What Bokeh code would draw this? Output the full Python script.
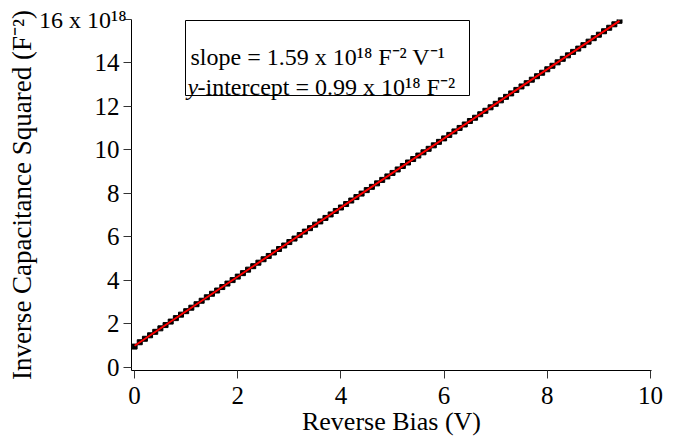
from bokeh.plotting import figure
from bokeh.models import Label, BoxAnnotation, LinearAxis, FixedTicker
from bokeh.embed import file_html
from bokeh.resources import INLINE

# ---- data (y in units of 1e18 F^-2) ----
bias_v = [0.0, 0.1, 0.2, 0.3, 0.4, 0.5, 0.6, 0.7, 0.8, 0.9,
          1.0, 1.1, 1.2, 1.3, 1.4, 1.5, 1.6, 1.7, 1.8, 1.9,
          2.0, 2.1, 2.2, 2.3, 2.4, 2.5, 2.6, 2.7, 2.8, 2.9,
          3.0, 3.1, 3.2, 3.3, 3.4, 3.5, 3.6, 3.7, 3.8, 3.9,
          4.0, 4.1, 4.2, 4.3, 4.4, 4.5, 4.6, 4.7, 4.8, 4.9,
          5.0, 5.1, 5.2, 5.3, 5.4, 5.5, 5.6, 5.7, 5.8, 5.9,
          6.0, 6.1, 6.2, 6.3, 6.4, 6.5, 6.6, 6.7, 6.8, 6.9,
          7.0, 7.1, 7.2, 7.3, 7.4, 7.5, 7.6, 7.7, 7.8, 7.9,
          8.0, 8.1, 8.2, 8.3, 8.4, 8.5, 8.6, 8.7, 8.8, 8.9,
          9.0, 9.1, 9.2, 9.3, 9.4]
inv_cap_sq = [0.95, 1.15, 1.31, 1.47, 1.63, 1.79, 1.94, 2.10, 2.26, 2.42,
              2.58, 2.74, 2.90, 3.06, 3.22, 3.38, 3.53, 3.69, 3.85, 4.01,
              4.17, 4.33, 4.49, 4.65, 4.81, 4.97, 5.12, 5.28, 5.44, 5.60,
              5.76, 5.92, 6.08, 6.24, 6.40, 6.56, 6.71, 6.87, 7.03, 7.19,
              7.35, 7.51, 7.67, 7.83, 7.99, 8.15, 8.30, 8.46, 8.62, 8.78,
              8.94, 9.10, 9.26, 9.42, 9.58, 9.74, 9.89, 10.05, 10.21, 10.37,
              10.53, 10.69, 10.85, 11.01, 11.17, 11.33, 11.48, 11.64, 11.80, 11.96,
              12.12, 12.28, 12.44, 12.60, 12.76, 12.92, 13.07, 13.23, 13.39, 13.55,
              13.71, 13.87, 14.03, 14.19, 14.35, 14.51, 14.66, 14.82, 14.98, 15.14,
              15.30, 15.46, 15.62, 15.78, 15.94]
fit_x = [0.0, 9.4]
fit_y = [0.99, 15.94]
x_ticks = [0, 2, 4, 6, 8, 10]
y_ticks = [0, 2, 4, 6, 8, 10, 12, 14, 16]
top_tick = 16
top_tick_text = "16 x 10\u00b9\u2078"
slope_text = "slope = 1.59 x 10\u00b9\u2078  F\u207b\u00b2 V\u207b\u00b9"
intercept_text = "-intercept = 0.99 x 10\u00b9\u2078 F\u207b\u00b2"

FONT = "Liberation Serif"

# frame geometry (pixels) and ranges
FL, FR, FT, FB = 131, 651, 19, 370
XR = (-0.06, 10.02)
YR = (-0.15, 16.0)


def dx(px):
    return XR[0] + (px - FL) / (FR - FL) * (XR[1] - XR[0])


def dy(py):
    return YR[1] - (py - FT) / (FB - FT) * (YR[1] - YR[0])


p = figure(width=680, height=444, x_range=XR, y_range=YR,
           output_backend="svg", toolbar_location=None,
           min_border_left=FL, min_border_right=680 - FR,
           min_border_top=FT, min_border_bottom=444 - FB,
           background_fill_color="white", border_fill_color="white")
p.outline_line_color = None
p.xgrid.visible = False
p.ygrid.visible = False


def style_axis(ax):
    ax.axis_line_color = "black"
    ax.axis_line_width = 1
    ax.major_tick_line_color = "#333333"
    ax.major_tick_out = 8
    ax.major_tick_in = 0
    ax.minor_tick_line_color = None
    ax.major_label_text_font = FONT
    ax.major_label_text_font_size = "25px"
    ax.major_label_text_color = "black"
    ax.axis_label_text_font = FONT
    ax.axis_label_text_font_style = "normal"
    ax.axis_label_text_color = "black"


style_axis(p.xaxis[0])
style_axis(p.yaxis[0])

p.xaxis.ticker = x_ticks
p.xaxis.axis_label = "Reverse Bias (V)"
p.xaxis.axis_label_text_font_size = "26px"
p.xaxis.major_label_standoff = 8
p.xaxis.axis_label_standoff = 0

# inner y axis: line, ticks and the plain tick labels
p.yaxis.ticker = y_ticks
p.yaxis.major_label_overrides = {top_tick: ""}
p.yaxis.major_label_standoff = 4

# outer y axis: only the top label with its exponent and the axis title
outer = LinearAxis(ticker=FixedTicker(ticks=[top_tick]),
                   major_label_overrides={top_tick: top_tick_text})
style_axis(outer)
outer.axis_line_color = None
outer.major_tick_line_color = None
outer.major_tick_out = 0
outer.major_label_text_font_size = "24px"
outer.major_label_standoff = -35
outer.axis_label = "Inverse Capacitance Squared (F\u207b\u00b2)"
outer.axis_label_text_font_size = "27px"
outer.axis_label_standoff = -1
p.add_layout(outer, "left")

p.scatter(bias_v, inv_cap_sq, marker="square", size=5, color="black")
p.line(fit_x, fit_y, color="red", line_width=2)

# annotation box
p.add_layout(BoxAnnotation(left=dx(185), right=dx(469), top=dy(20), bottom=dy(95),
                           fill_alpha=0, line_color="black", line_alpha=1,
                           line_width=1))


def put(px, py, txt, size, style="normal"):
    p.add_layout(Label(x=dx(px), y=dy(py), text=txt, text_align="left",
                       text_baseline="alphabetic", text_font=FONT,
                       text_font_size=size, text_font_style=style,
                       text_color="black"))


BIG = "24px"
put(190, 56, slope_text, BIG)
put(187, 86, "y", BIG, "italic")
put(197, 86, intercept_text, BIG)

open("out.html", "w").write(file_html(p, INLINE))
